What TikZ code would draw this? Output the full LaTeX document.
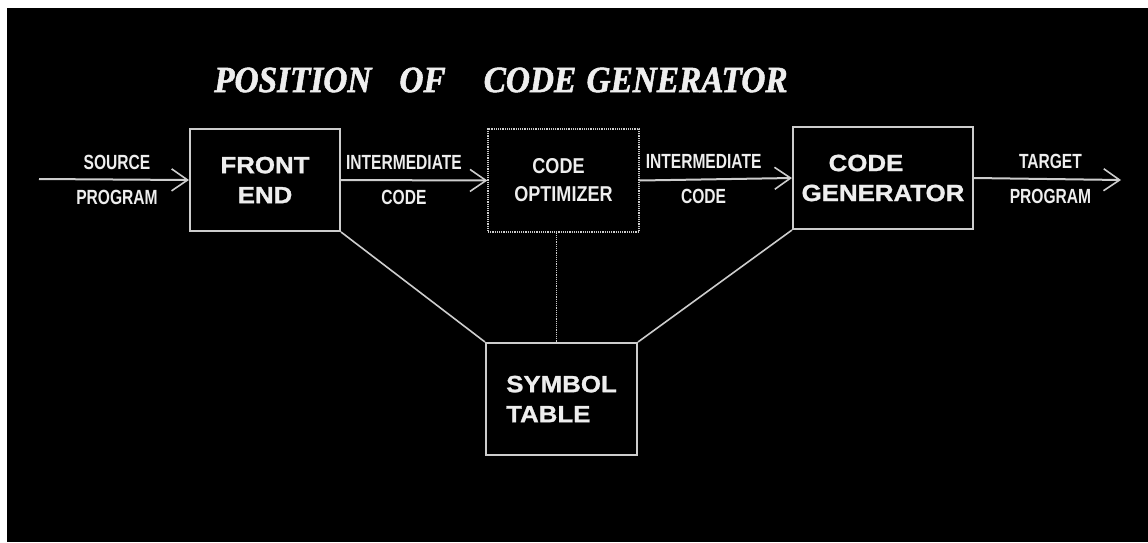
\documentclass[tikz,border=0pt]{standalone}
\usepackage{fontspec}
\setmainfont{Liberation Sans}
\newfontfamily\lblfont[FakeStretch=0.76]{Liberation Sans}
\newfontfamily\optfont[FakeStretch=0.84]{Liberation Sans}
\newfontfamily\boxfont[FakeStretch=1.1,FakeBold=1.2]{Liberation Sans}
\newfontfamily\ttlfont[FakeStretch=0.9,FakeBold=1.5]{Liberation Serif}
\usetikzlibrary{arrows.meta}
\definecolor{ink}{RGB}{238,238,238}
\definecolor{edge}{RGB}{205,205,205}
\tikzset{
  x=1pt, y=-1pt,
  solidbox/.style={draw=edge, line width=2pt, inner sep=0pt, text=ink, align=center,
    font=\boxfont\bfseries\fontsize{23.5}{30}\selectfont},
  dotbox/.style={draw=edge, line width=1.2pt, densely dotted, inner sep=0pt, text=ink, align=center,
    font=\optfont\bfseries\fontsize{21.5}{28}\selectfont},
  flow/.style={draw=edge, line width=2pt, -{Straight Barb[length=16pt,width=22pt,line width=1.6pt]}},
  link/.style={draw=edge, line width=1.6pt},
  dotlink/.style={draw=edge, line width=1.2pt, densely dotted},
  lbl/.style={text=ink, align=center, inner sep=0pt, font=\lblfont\bfseries\fontsize{20.5}{35}\selectfont},
}
\begin{document}
\begin{tikzpicture}
\useasboundingbox (0,0) rectangle (1148,542);
\fill[white] (0,0) rectangle (1148,542);
\fill[black] (7,8) rectangle (1148,542);

\node[text=ink, inner sep=0pt, anchor=west, font=\ttlfont\bfseries\itshape\fontsize{37}{40}\selectfont]
  (title) at (214,80) {POSITION\hspace{28pt}OF\hspace{38pt}CODE\hspace{2pt} GENERATOR};

\node[solidbox, minimum width=150pt, minimum height=102pt] (fe) at (265,180) {FRONT\\END};
\node[dotbox, minimum width=151pt, minimum height=103pt] (opt) at (563.5,180.5) {CODE\hspace*{10pt}\\OPTIMIZER};
\node[solidbox, minimum width=180pt, minimum height=102pt] (cg) at (883,178) {CODE\hspace*{34pt}\\GENERATOR};
\node[solidbox, align=left, minimum width=151pt, minimum height=112pt] (st) at (561.5,399) {SYMBOL\\TABLE};

\coordinate (src) at (39,179);
\coordinate (tgt) at (1121,180);

\draw[flow] (src) -- (fe.west) node[lbl, pos=0.52] (l1) {SOURCE\\PROGRAM};
\draw[flow] (fe.east) -- (opt.west) node[lbl, pos=0.43] (l2) {INTERMEDIATE\\CODE};
\draw[flow] (opt.east) -- (cg.west) node[lbl, pos=0.42] (l3) {INTERMEDIATE\\CODE};
\draw[flow] (cg.east) -- (tgt) node[lbl, pos=0.52] (l4) {TARGET\\PROGRAM};

\draw[link] (fe.south east) -- (st.north west);
\draw[link] (cg.south west) -- (st.north east);
\draw[dotlink] ([xshift=-7pt]opt.south) -- ([xshift=-7pt]opt.south |- st.north);
\end{tikzpicture}
\end{document}
